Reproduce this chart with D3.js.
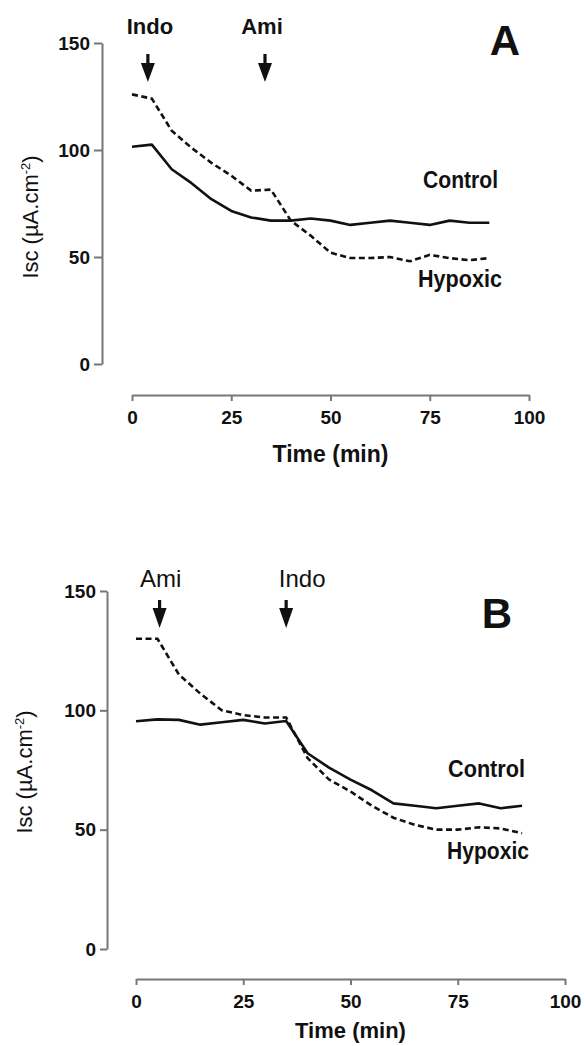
<!DOCTYPE html>
<html>
<head>
<meta charset="utf-8">
<script src="https://cdnjs.cloudflare.com/ajax/libs/d3/7.8.5/d3.min.js"></script>
<style>
  body { margin: 0; background: white; }
  svg { display: block; }
  text { font-family: "Liberation Sans", Arial, Helvetica, sans-serif; fill: #111; }
  .cond { font-weight: bold; }
</style>
</head>
<body>
<svg id="chart" width="585" height="1046"></svg>
<script>
// sample times (min)
var time = [0, 5, 10, 15, 20, 25, 30, 35, 40, 45, 50, 55, 60, 65, 70, 75, 80, 85, 90];

// panel A: Indo then Ami
var controlA = [101.5, 102.5, 91, 84.5, 77, 71.5, 68.5, 67, 67, 68, 67, 65, 66, 67, 66, 65, 67, 66, 66];
var hypoxicA = [126, 124, 109, 101, 94, 88, 81, 81.5, 67, 60, 52, 49.5, 49.5, 50, 48, 51, 49.5, 48.5, 49.5];

// panel B: Ami then Indo
var controlB = [95.4, 96.2, 96, 94, 95, 96, 94.5, 95.5, 82, 76, 71, 66.5, 61, 60, 59, 60, 61, 59, 60];
var hypoxicB = [130, 130, 115, 107, 100, 98, 97, 97, 80, 71, 66, 60, 55, 52, 50, 50, 51, 50.5, 48.5];

var xTicks = [0, 25, 50, 75, 100];
var yTicks = [0, 50, 100, 150];

var arrowsA = [{label: "Indo", t: 4}, {label: "Ami", t: 33.5}];
var arrowsB = [{label: "Ami", t: 5.5}, {label: "Indo", t: 35}];

var seriesNames = ["Control", "Hypoxic"];
var xTitle = "Time (min)";

var panels = [
  {letter: "A", control: controlA, hypoxic: hypoxicA, arrows: arrowsA,
   xr: [132, 529], yr: [364, 43], xAxisY: 395, yAxisX: 102,
   tickLen: 8, tickFont: 19, titleFont: 23, titleY: 462,
   yLabelX: 38, yLabelY: 217,
   arrowTop: 54, arrowMid: 63, arrowBot: 82, arrowFont: 22, arrowWeight: "bold", arrowTextY: 34, arrowDx: [2, -3],
   letterPos: [505, 55],
   labels: [{x: 423, y: 188, w: 75}, {x: 418, y: 287, w: 84}]},
  {letter: "B", control: controlB, hypoxic: hypoxicB, arrows: arrowsB,
   xr: [136, 565], yr: [949, 591], xAxisY: 979, yAxisX: 107,
   tickLen: 7, tickFont: 19, titleFont: 22, titleY: 1038,
   yLabelX: 32, yLabelY: 772,
   arrowTop: 600, arrowMid: 608, arrowBot: 628, arrowFont: 24, arrowWeight: "normal", arrowTextY: 587, arrowDx: [1, 16],
   letterPos: [497, 628],
   labels: [{x: 448, y: 777, w: 77}, {x: 447, y: 859, w: 82}]}
];

var svg = d3.select("#chart");

panels.forEach(drawPanel);

function drawPanel(p) {
  var g = svg.append("g");

  var x = d3.scaleLinear().domain([0, 100]).range(p.xr),
      y = d3.scaleLinear().domain([0, 150]).range(p.yr);

  // y axis
  var ya = g.append("g")
    .attr("transform", "translate(" + p.yAxisX + ",0)")
    .call(d3.axisLeft(y).tickValues(yTicks).tickSize(p.tickLen).tickSizeOuter(0).tickPadding(4));

  // x axis (offset below the plot)
  var xa = g.append("g")
    .attr("transform", "translate(0," + p.xAxisY + ")")
    .call(d3.axisBottom(x).tickValues(xTicks).tickSize(6).tickSizeOuter(0).tickPadding(6));

  [ya, xa].forEach(function(a) {
    a.select(".domain").attr("stroke", "#777").attr("stroke-width", 2);
    a.selectAll(".tick line").attr("stroke", "#777").attr("stroke-width", 2);
    a.selectAll(".tick text")
      .style("font-family", "'Liberation Sans', Arial, sans-serif")
      .style("font-weight", "bold")
      .style("font-size", p.tickFont + "px")
      .attr("fill", "#222");
  });
  xa.selectAll(".tick text").attr("dy", "0.9em");

  // axis titles
  g.append("text")
    .attr("x", (p.xr[0] + p.xr[1]) / 2)
    .attr("y", p.titleY)
    .attr("text-anchor", "middle")
    .style("font-weight", "bold")
    .style("font-size", p.titleFont + "px")
    .text(xTitle);

  var yl = g.append("text")
    .attr("transform", "translate(" + p.yLabelX + "," + p.yLabelY + ") rotate(-90)")
    .attr("text-anchor", "middle")
    .style("font-size", "22px");
  yl.append("tspan").text("Isc (µA.cm");
  yl.append("tspan").attr("dy", -8).style("font-size", "13px").text("-2");
  yl.append("tspan").attr("dy", 8).text(")");

  // lines
  var line = d3.line()
    .x(function(d, i) { return x(time[i]); })
    .y(function(d) { return y(d); });

  g.append("path")
    .datum(p.control)
    .attr("d", line)
    .attr("fill", "none")
    .attr("stroke", "#111")
    .attr("stroke-width", 2.6)
    .attr("stroke-linejoin", "round");

  g.append("path")
    .datum(p.hypoxic)
    .attr("d", line)
    .attr("fill", "none")
    .attr("stroke", "#111")
    .attr("stroke-width", 2.6)
    .attr("stroke-dasharray", "6,3.5");

  // treatment arrows
  var arr = g.selectAll(".arrow").data(p.arrows).enter().append("g");
  arr.append("path")
    .attr("d", function(d) {
      var cx = x(d.t);
      return "M" + (cx - 1.6) + "," + p.arrowTop + "L" + (cx + 1.6) + "," + p.arrowTop +
             "L" + (cx + 1.6) + "," + p.arrowMid + "L" + (cx + 7) + "," + p.arrowMid +
             "L" + cx + "," + p.arrowBot + "L" + (cx - 7) + "," + p.arrowMid +
             "L" + (cx - 1.6) + "," + p.arrowMid + "Z";
    })
    .attr("fill", "#111");
  arr.append("text")
    .attr("x", function(d, i) { return x(d.t) + p.arrowDx[i]; })
    .attr("y", p.arrowTextY)
    .attr("text-anchor", "middle")
    .style("font-size", p.arrowFont + "px")
    .style("font-weight", p.arrowWeight)
    .text(function(d) { return d.label; });

  // panel letter
  g.append("text")
    .attr("x", p.letterPos[0])
    .attr("y", p.letterPos[1])
    .attr("text-anchor", "middle")
    .style("font-size", "42px")
    .style("font-weight", "bold")
    .text(p.letter);

  // series labels (condensed look via textLength)
  g.selectAll(".slabel").data(p.labels).enter().append("text")
    .attr("class", "cond")
    .attr("x", function(d) { return d.x; })
    .attr("y", function(d) { return d.y; })
    .attr("textLength", function(d) { return d.w; })
    .attr("lengthAdjust", "spacingAndGlyphs")
    .style("font-size", "24px")
    .text(function(d, i) { return seriesNames[i]; });
}
</script>
</body>
</html>
